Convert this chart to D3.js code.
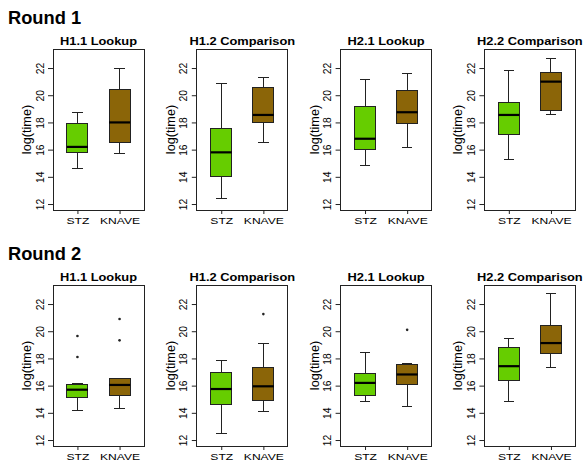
<!DOCTYPE html>
<html>
<head>
<meta charset="utf-8">
<script src="https://cdn.jsdelivr.net/npm/d3@7"></script>
<style>
  html, body { margin: 0; padding: 0; background: #fff; }
  svg { display: block; }
  svg text { font-family: "Liberation Sans", Arial, Helvetica, sans-serif; }
</style>
</head>
<body>
<script>
// ---------------- data ----------------
const rounds = ["Round 1", "Round 2"];
const tasks = ["H1.1 Lookup", "H1.2 Comparison", "H2.1 Lookup", "H2.2 Comparison"];
const categories = ["STZ", "KNAVE"];
const yTicks = [12, 14, 16, 18, 20, 22];

// five-number summaries [lower whisker, Q1, median, Q3, upper whisker], one per task
const round1STZ = [
  [14.6, 15.8, 16.2, 17.9, 18.7],
  [12.4, 14.0, 15.8, 17.55, 20.85],
  [14.8, 16.0, 16.8, 19.15, 21.15],
  [15.25, 17.1, 18.55, 19.5, 21.85]
];
const round1KNAVE = [
  [15.7, 16.55, 18.0, 20.4, 22.0],
  [16.55, 18.0, 18.55, 20.55, 21.27],
  [16.15, 17.95, 18.75, 20.35, 21.6],
  [18.6, 18.9, 21.0, 21.7, 22.7]
];
const round2STZ = [
  [14.15, 15.16, 15.7, 16.07, 16.12],
  [12.5, 14.63, 15.75, 16.95, 17.82],
  [14.83, 15.3, 16.2, 16.9, 18.46],
  [14.83, 16.35, 17.43, 18.77, 19.46]
];
const round2KNAVE = [
  [14.35, 15.3, 16.05, 16.5, 16.5],
  [14.1, 14.9, 15.95, 17.35, 19.08],
  [14.5, 16.1, 16.82, 17.53, 17.6],
  [17.3, 18.37, 19.13, 20.43, 22.74]
];
// outliers, one list per task
const round1STZOut = [[], [], [], []];
const round1KNAVEOut = [[], [], [], []];
const round2STZOut = [[18.1, 19.65], [], [], []];
const round2KNAVEOut = [[19.33, 20.9], [21.26], [20.1], []];

const colors = ["#66CD00", "#8B6508"];

// ---------------- layout ----------------
const W = 583, H = 463;
const plotW = 91, plotH = 161;
const colLeft = d3.range(4).map(i => 53 + i * 143.8);
const rowTop = [49, 285];
const stretch = 1.26;
const FONT = '"Liberation Sans", Arial, Helvetica, sans-serif';

const svg = d3.select("body").append("svg")
  .attr("width", W).attr("height", H);
svg.append("rect").attr("width", W).attr("height", H).attr("fill", "#fff");

const roundData = [
  { stz: round1STZ, knave: round1KNAVE, stzOut: round1STZOut, knaveOut: round1KNAVEOut },
  { stz: round2STZ, knave: round2KNAVE, stzOut: round2STZOut, knaveOut: round2KNAVEOut }
];

rounds.forEach((rname, r) => {
  const top = rowTop[r];
  svg.append("text")
    .attr("x", 8).attr("y", top - 25.5)
    .attr("font-family", FONT)
    .attr("font-size", 18.3).attr("font-weight", "bold")
    .attr("fill", "#000")
    .text(rname);

  tasks.forEach((tname, t) => {
    const left = colLeft[t];
    const x = d3.scaleLinear().domain([0.42, 2.58]).range([left, left + plotW]);
    const y = d3.scaleLinear().domain([11.56, 23.4]).range([top + plotH, top]);
    const g = svg.append("g");

    const groups = [
      { stats: roundData[r].stz[t], out: roundData[r].stzOut[t] },
      { stats: roundData[r].knave[t], out: roundData[r].knaveOut[t] }
    ];

    groups.forEach((grp, i) => {
      const cx = x(i + 1);
      const [lo, q1, med, q3, hi] = grp.stats;
      const halfBox = x(i + 1.25) - cx;
      const halfStaple = x(i + 1.125) - cx;
      const bg = g.append("g").attr("stroke", "#222").attr("shape-rendering", "crispEdges");
      bg.append("line").attr("x1", cx).attr("x2", cx).attr("y1", y(lo)).attr("y2", y(q1)).attr("stroke-width", 1);
      bg.append("line").attr("x1", cx).attr("x2", cx).attr("y1", y(q3)).attr("y2", y(hi)).attr("stroke-width", 1);
      bg.append("line").attr("x1", cx - halfStaple).attr("x2", cx + halfStaple).attr("y1", y(lo)).attr("y2", y(lo)).attr("stroke-width", 1);
      bg.append("line").attr("x1", cx - halfStaple).attr("x2", cx + halfStaple).attr("y1", y(hi)).attr("y2", y(hi)).attr("stroke-width", 1);
      bg.append("rect")
        .attr("x", cx - halfBox).attr("width", 2 * halfBox)
        .attr("y", y(q3)).attr("height", y(q1) - y(q3))
        .attr("fill", colors[i]).attr("stroke-width", 1);
      bg.append("line").attr("x1", cx - halfBox).attr("x2", cx + halfBox)
        .attr("y1", y(med)).attr("y2", y(med)).attr("stroke-width", 2.2)
        .attr("stroke", "#000")
        .attr("shape-rendering", "auto");
      g.selectAll(null).data(grp.out).enter().append("circle")
        .attr("cx", cx).attr("cy", d => y(d)).attr("r", 1.3).attr("fill", "#222");
    });

    g.append("rect").attr("x", left).attr("y", top).attr("width", plotW).attr("height", plotH)
      .attr("fill", "none").attr("stroke", "#222").attr("stroke-width", 1)
      .attr("shape-rendering", "crispEdges");

    const ya = g.append("g").attr("transform", `translate(${left},0)`)
      .call(d3.axisLeft(y).tickValues(yTicks).tickSize(5).tickFormat(d3.format("d")));
    ya.attr("font-family", FONT).attr("font-size", 10.3);
    ya.select(".domain").remove();
    ya.selectAll("line").attr("stroke", "#222");
    ya.selectAll("text")
      .attr("x", null).attr("dy", null).attr("y", null)
      .attr("text-anchor", "middle")
      .attr("transform", "translate(-9.5,0) rotate(-90)")
      .attr("fill", "#000");

    const xa = g.append("g").attr("transform", `translate(0,${top + plotH})`)
      .call(d3.axisBottom(x).tickValues([1, 2]).tickSize(4).tickFormat(d => categories[d - 1]));
    xa.attr("font-family", FONT).attr("font-size", 9.6);
    xa.select(".domain").remove();
    xa.selectAll("line").attr("stroke", "#222");
    xa.selectAll("text")
      .attr("y", 14).attr("dy", null)
      .attr("transform", `scale(${stretch},1)`)
      .attr("fill", "#000");

    g.append("text")
      .attr("transform", `translate(${left - 22},${top + plotH / 2}) rotate(-90)`)
      .attr("text-anchor", "middle")
      .attr("font-family", FONT)
      .attr("font-size", 12.7).attr("fill", "#000")
      .text("log(time)");

    g.append("g").attr("transform", `translate(${left + plotW / 2},${top - 4})`)
      .append("text")
      .attr("text-anchor", "middle")
      .attr("transform", `scale(${stretch},1)`)
      .attr("font-family", FONT)
      .attr("font-size", 10.2).attr("font-weight", "bold").attr("fill", "#000")
      .text(tname);
  });
});
</script>
</body>
</html>
